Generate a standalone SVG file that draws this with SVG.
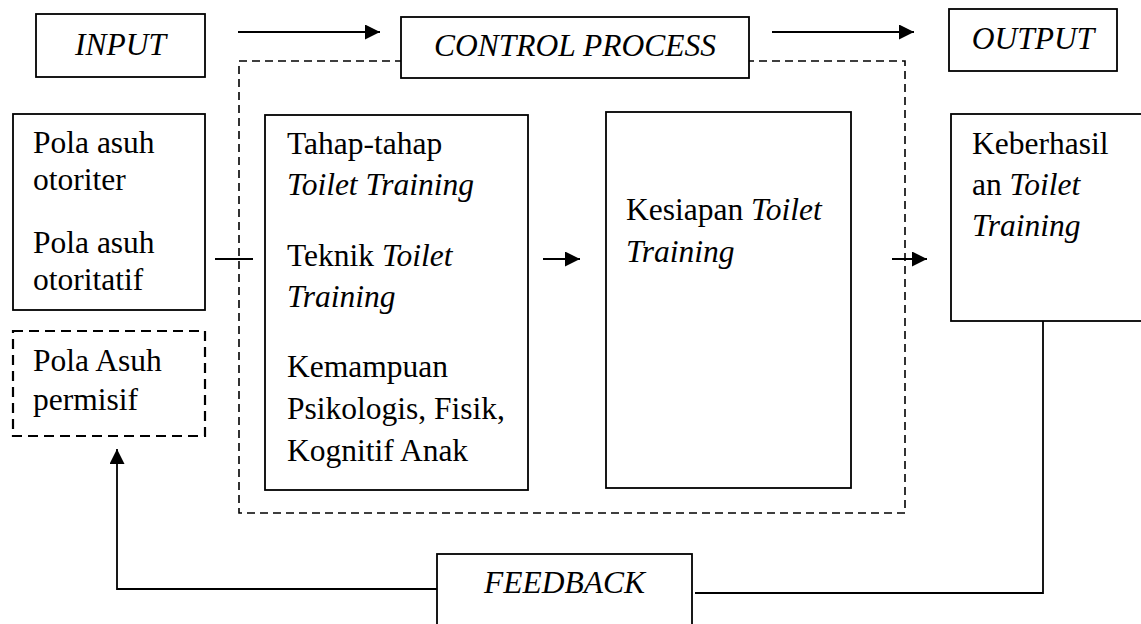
<svg xmlns="http://www.w3.org/2000/svg" width="1141" height="624" viewBox="0 0 1141 624">
<style>
text{font-family:"Liberation Serif","Times New Roman",serif;font-size:31.5px;fill:#000}
.i{font-style:italic}
.box{fill:#fff;stroke:#000;stroke-width:1.8}
.dbox{fill:none;stroke:#000;stroke-width:2.2;stroke-dasharray:10 6}
.frame{fill:none;stroke:#000;stroke-width:1.6;stroke-dasharray:8 5}
.ln{fill:none;stroke:#000;stroke-width:1.8}
.arr{fill:none;stroke:#000;stroke-width:2.2;marker-end:url(#ah)}
</style>
<defs>
<marker id="ah" markerUnits="userSpaceOnUse" markerWidth="16" markerHeight="15" refX="15" refY="7.5" orient="auto">
<path d="M0,0 L15,7.5 L0,15 z" fill="#000"/>
</marker>
</defs>
<rect width="1141" height="624" fill="#fff"/>
<g id="control-frame">
<rect class="frame" x="239" y="61" width="666" height="452"/>
</g>
<g id="connectors">
<line class="arr" x1="238" y1="32" x2="380" y2="32"/>
<line class="arr" x1="772" y1="32" x2="914" y2="32"/>
<line class="ln" x1="215" y1="259" x2="253" y2="259"/>
<line class="arr" x1="543" y1="259" x2="580" y2="259"/>
<line class="arr" x1="892" y1="259" x2="927" y2="259"/>
<path class="ln" d="M1043,321 V593 H695"/>
<path class="ln" d="M437,589 H117 V449" marker-end="url(#ah)"/>
</g>
<g id="input">
<rect class="box" x="36" y="14" width="169" height="63"/>
<text class="i" x="120.5" y="55" text-anchor="middle">INPUT</text>
</g>
<g id="control-process">
<rect class="box" x="401" y="17" width="348" height="61"/>
<text class="i" x="575" y="56" text-anchor="middle">CONTROL PROCESS</text>
</g>
<g id="output">
<rect class="box" x="949" y="9" width="168" height="62"/>
<text class="i" x="1033" y="49" text-anchor="middle">OUTPUT</text>
</g>
<g id="pola-asuh">
<rect class="box" x="13" y="114" width="192" height="196"/>
<text x="33" y="153">Pola asuh</text>
<text x="33" y="190">otoriter</text>
<text x="33" y="253">Pola asuh</text>
<text x="33" y="290">otoritatif</text>
</g>
<g id="permisif">
<rect class="dbox" x="13" y="331" width="192" height="105"/>
<text x="33" y="371">Pola Asuh</text>
<text x="33" y="410">permisif</text>
</g>
<g id="tahap">
<rect class="box" x="265" y="115" width="263" height="375"/>
<text x="287" y="154">Tahap-tahap</text>
<text class="i" x="287" y="195">Toilet Training</text>
<text x="287" y="266">Teknik <tspan class="i">Toilet</tspan></text>
<text class="i" x="287" y="307">Training</text>
<text x="287" y="377">Kemampuan</text>
<text x="287" y="419">Psikologis, Fisik,</text>
<text x="287" y="461">Kognitif Anak</text>
</g>
<g id="kesiapan">
<rect class="box" x="606" y="112" width="245" height="376"/>
<text x="626" y="220">Kesiapan <tspan class="i">Toilet</tspan></text>
<text class="i" x="626" y="262">Training</text>
</g>
<g id="keberhasilan">
<rect class="box" x="951" y="114" width="200" height="207"/>
<text x="972" y="154">Keberhasil</text>
<text x="972" y="195">an <tspan class="i">Toilet</tspan></text>
<text class="i" x="972" y="236">Training</text>
</g>
<g id="feedback">
<rect class="box" x="437" y="554" width="255" height="80"/>
<text class="i" x="564.5" y="593" text-anchor="middle">FEEDBACK</text>
</g>
</svg>
